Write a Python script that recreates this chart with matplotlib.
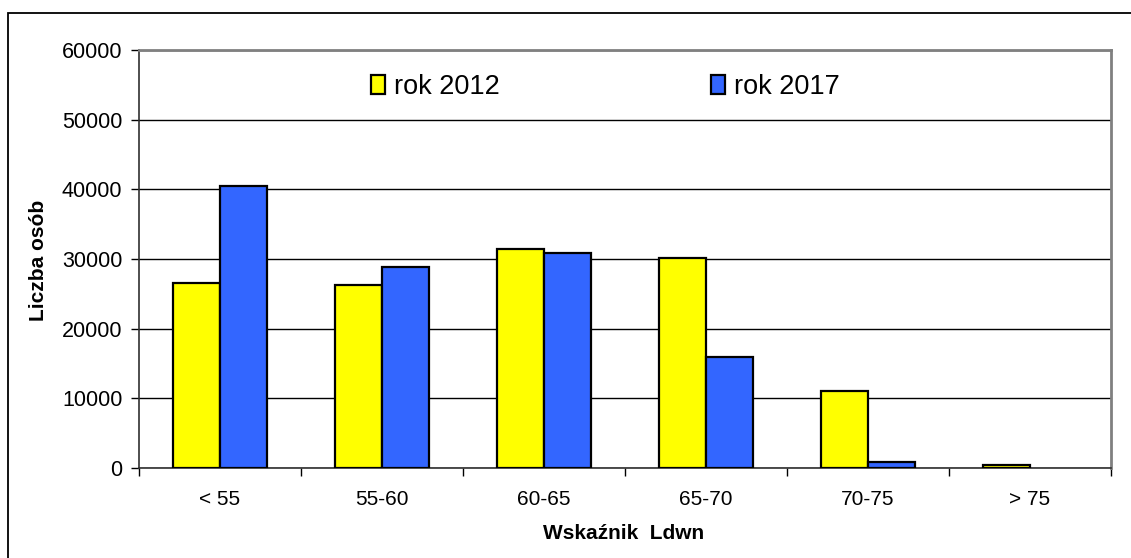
import numpy as np
import matplotlib
matplotlib.use("Agg")
import matplotlib.pyplot as plt
from matplotlib.patches import Rectangle

plt.rcParams['font.family'] = ['Liberation Sans', 'DejaVu Sans']

# dane
kategorie = ['< 55', '55-60', '60-65', '65-70', '70-75', '> 75']
rok_2012 = [26500, 26300, 31500, 30200, 11050, 430]
rok_2017 = [40450, 28800, 30850, 15900, 900, 0]
y_ticks = [0, 10000, 20000, 30000, 40000, 50000, 60000]

W, H = 1131, 558
fig = plt.figure(figsize=(W / 100, H / 100), dpi=100)
ax = fig.add_axes([139 / W, 1 - 468 / H, (1111 - 139) / W, (468 - 50) / H])

x = np.arange(len(kategorie))
szer = 0.29
ax.bar(x - szer / 2, rok_2012, szer, color='#FFFF00', edgecolor='black',
       linewidth=[1.6 if v > 0 else 0 for v in rok_2012],
       label='rok 2012', zorder=3)
ax.bar(x + szer / 2, rok_2017, szer, color='#3366FF', edgecolor='black',
       linewidth=[1.6 if v > 0 else 0 for v in rok_2017],
       label='rok 2017', zorder=3)

ax.set_xlim(-0.5, len(kategorie) - 0.5)
ax.set_ylim(0, 60000)
ax.set_yticks(y_ticks)
ax.set_yticklabels([str(v) for v in y_ticks])
ax.yaxis.grid(True, color='black', linewidth=1.0, zorder=0)
ax.set_axisbelow(True)

ax.set_xticks(x)
ax.set_xticklabels(kategorie)
ax.set_xticks(np.arange(-0.5, len(kategorie)), minor=True)
ax.tick_params(axis='x', which='major', length=0, pad=16, labelsize=15)
ax.tick_params(axis='x', which='minor', length=6, width=1, direction='out')
ax.tick_params(axis='y', length=6, width=1, direction='out', pad=6,
               labelsize=15.5)

for s in ['left', 'bottom']:
    ax.spines[s].set_color('#303030')
    ax.spines[s].set_linewidth(1.2)
for s in ['top', 'right']:
    ax.spines[s].set_color('#808080')
    ax.spines[s].set_linewidth(2.0)

ax.set_ylabel('Liczba osób', fontsize=15, fontweight='bold')
ax.yaxis.set_label_coords((48 - 139) / (1111 - 139), (468 - 260) / (468 - 50))
ax.set_xlabel('Wskaźnik  Ldwn', fontsize=15, fontweight='bold')
ax.xaxis.set_label_coords((624 - 139) / (1111 - 139), -(524 - 468) / (468 - 50))

leg = ax.legend(loc='center left', bbox_to_anchor=(371 / W, 1 - 87 / H),
                bbox_transform=fig.transFigure, ncol=2, frameon=False,
                fontsize=19.5, handlelength=0.5, handleheight=0.65,
                handletextpad=0.35, columnspacing=7.8, borderpad=0,
                borderaxespad=0)
for h in leg.legend_handles:
    h.set_linewidth(1.6)

# ramka wykresu
fig.patches.append(Rectangle((8 / W, -0.1), 1.2, 1 - 13 / H + 0.1,
                             transform=fig.transFigure, fill=False,
                             edgecolor='black', linewidth=1.3))

fig.savefig('out.png', dpi=100)
